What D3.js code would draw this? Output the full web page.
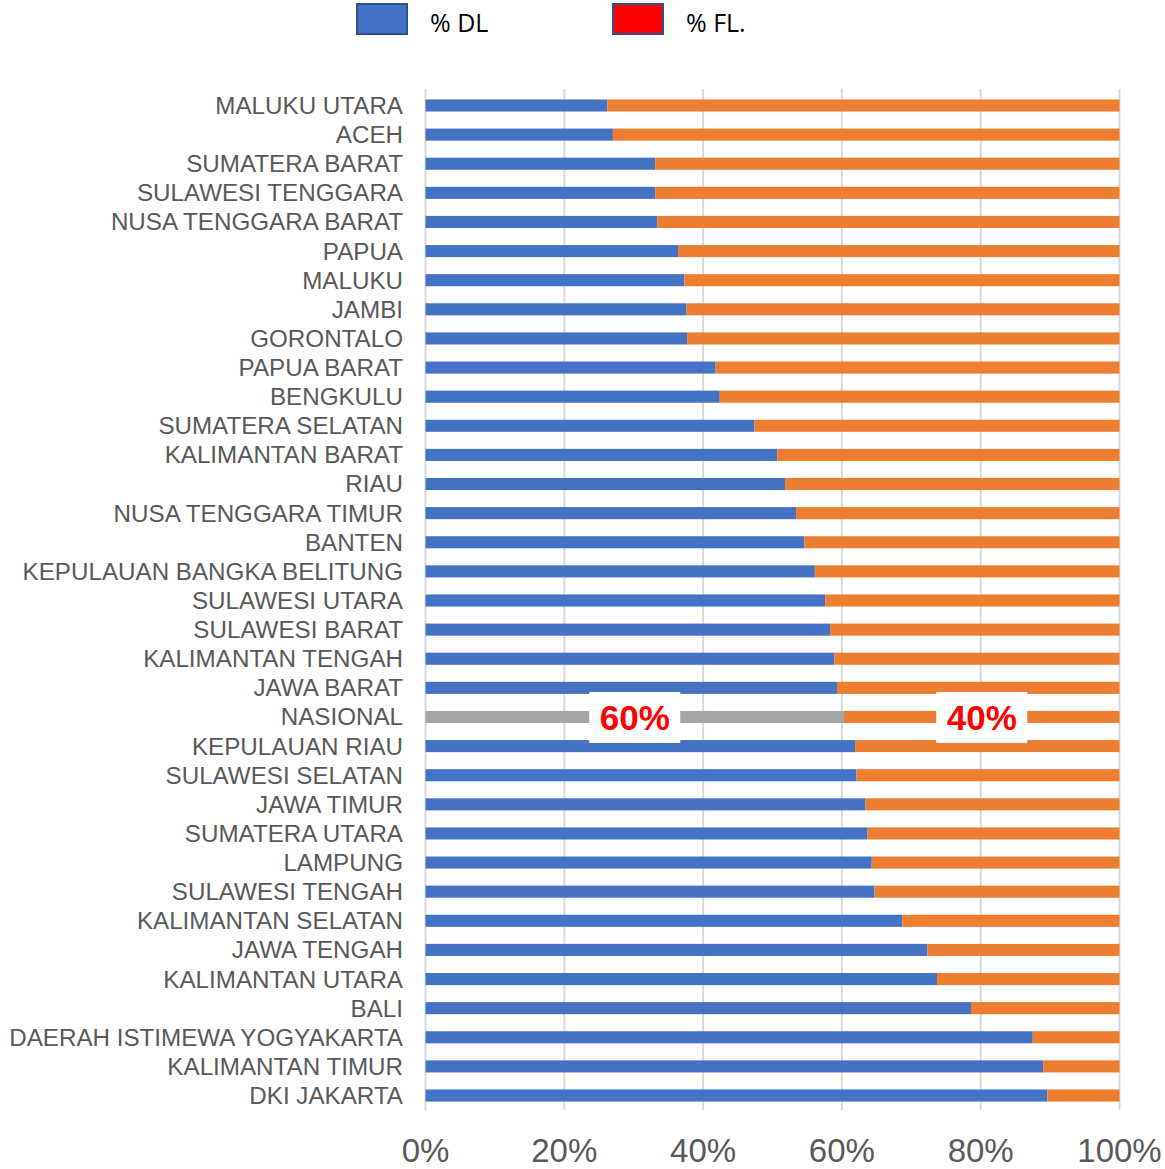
<!DOCTYPE html>
<html>
<head>
<meta charset="utf-8">
<script src="https://cdn.jsdelivr.net/npm/d3@7"></script>
<style>
  body { margin: 0; background: #fff; }
  svg { display: block; font-family: "Liberation Sans", Arial, sans-serif; }
</style>
</head>
<body>
<svg id="chart"></svg>
<script>
var provinces = ["MALUKU UTARA","ACEH","SUMATERA BARAT","SULAWESI TENGGARA","NUSA TENGGARA BARAT",
	"PAPUA","MALUKU","JAMBI","GORONTALO","PAPUA BARAT","BENGKULU","SUMATERA SELATAN",
	"KALIMANTAN BARAT","RIAU","NUSA TENGGARA TIMUR","BANTEN","KEPULAUAN BANGKA BELITUNG",
	"SULAWESI UTARA","SULAWESI BARAT","KALIMANTAN TENGAH","JAWA BARAT","NASIONAL",
	"KEPULAUAN RIAU","SULAWESI SELATAN","JAWA TIMUR","SUMATERA UTARA","LAMPUNG",
	"SULAWESI TENGAH","KALIMANTAN SELATAN","JAWA TENGAH","KALIMANTAN UTARA","BALI",
	"DAERAH ISTIMEWA YOGYAKARTA","KALIMANTAN TIMUR","DKI JAKARTA"];

var dlValues = [26.2, 27.0, 33.1, 33.1, 33.4, 36.4, 37.3, 37.6, 37.7, 41.8, 42.4, 47.4,
	50.7, 51.8, 53.4, 54.6, 56.1, 57.6, 58.3, 58.9, 59.3, 60.3, 61.9, 62.1, 63.4, 63.7,
	64.3, 64.7, 68.7, 72.3, 73.7, 78.6, 87.5, 89.0, 89.6];

var flValues = [73.8, 73.0, 66.9, 66.9, 66.6, 63.6, 62.7, 62.4, 62.3, 58.2, 57.6, 52.6,
	49.3, 48.2, 46.6, 45.4, 43.9, 42.4, 41.7, 41.1, 40.7, 39.7, 38.1, 37.9, 36.6, 36.3,
	35.7, 35.3, 31.3, 27.7, 26.3, 21.4, 12.5, 11.0, 10.4];

var xTicks = [0, 20, 40, 60, 80, 100];
var legendItems = [{name: "% DL", color: "#4472C4"}, {name: "% FL.", color: "#FF0000"}];
var nationalLabels = ["60%", "40%"];

var svgWidth = 1165, svgHeight = 1169,
	plotLeft = 425.5, plotRight = 1119.5, plotTop = 91, plotBottom = 1110;

var vis = d3.select("#chart").attr("width", svgWidth).attr("height", svgHeight);

var x = d3.scaleLinear().domain([0, 100]).range([plotLeft, plotRight]);
var y = d3.scaleBand().domain(provinces).range([plotTop, plotBottom]).paddingInner(0.585).paddingOuter(0.29);

// gridlines
vis.append("g").selectAll("line")
	.data(xTicks)
	.enter().append("line")
	.attr("x1", function(d){ return x(d); })
	.attr("x2", function(d){ return x(d); })
	.attr("y1", plotTop - 2)
	.attr("y2", plotBottom)
	.attr("stroke", "#d9d9d9")
	.attr("stroke-width", 2);

var rows = provinces.map(function(p, i){
	return {name: p, dl: dlValues[i], fl: flValues[i], nas: p == "NASIONAL"};
});

var bars = vis.append("g");
bars.selectAll("rect.dl")
	.data(rows)
	.enter().append("rect")
	.attr("class", "dl")
	.attr("x", x(0))
	.attr("y", function(d){ return y(d.name); })
	.attr("width", function(d){ return x(d.dl) - x(0); })
	.attr("height", y.bandwidth())
	.attr("fill", function(d){ return d.nas ? "#A5A5A5" : "#4472C4"; });

bars.selectAll("rect.fl")
	.data(rows)
	.enter().append("rect")
	.attr("class", "fl")
	.attr("x", function(d){ return x(d.dl); })
	.attr("y", function(d){ return y(d.name); })
	.attr("width", function(d){ return x(d.dl + d.fl) - x(d.dl); })
	.attr("height", y.bandwidth())
	.attr("fill", "#ED7D31");

// category labels
vis.append("g").selectAll("text")
	.data(provinces)
	.enter().append("text")
	.attr("x", 403)
	.attr("y", function(d){ return y(d) + y.bandwidth() / 2; })
	.attr("dy", "0.35em")
	.attr("text-anchor", "end")
	.attr("font-size", 24.2)
	.attr("fill", "#595959")
	.text(function(d){ return d; });

// x tick labels
vis.append("g").selectAll("text")
	.data(xTicks)
	.enter().append("text")
	.attr("x", function(d){ return x(d); })
	.attr("y", 1162)
	.attr("text-anchor", "middle")
	.attr("font-size", 33)
	.attr("fill", "#595959")
	.text(function(d){ return d + "%"; });

// national labels
var nas = rows.filter(function(d){ return d.nas; })[0];
var labelPos = [nas.dl / 2, nas.dl + nas.fl / 2];
var ann = vis.append("g").selectAll("g")
	.data(labelPos)
	.enter().append("g")
	.attr("transform", function(d){ return "translate(" + x(d) + "," + (y(nas.name) + y.bandwidth() / 2) + ")"; });
ann.append("rect")
	.attr("x", -45.5).attr("y", -25)
	.attr("width", 91).attr("height", 51)
	.attr("fill", "#fff");
ann.append("text")
	.attr("text-anchor", "middle")
	.attr("dy", "0.36em")
	.attr("font-size", 35)
	.attr("font-weight", "bold")
	.attr("fill", "#FF0000")
	.text(function(d, i){ return nationalLabels[i]; });

// legend
var lg = vis.append("g").selectAll("g")
	.data(legendItems)
	.enter().append("g")
	.attr("transform", function(d, i){ return "translate(" + (357 + i * 256) + ",4)"; });
lg.append("rect")
	.attr("width", 50).attr("height", 30)
	.attr("fill", function(d){ return d.color; })
	.attr("stroke", "#2F528F")
	.attr("stroke-width", 2);
lg.append("text")
	.attr("x", 73).attr("y", 28)
	.attr("font-size", 25)
	.attr("fill", "#000")
	.style("font-family", "'Open Sans', 'Liberation Sans', sans-serif")
	.text(function(d){ return d.name; });
</script>
</body>
</html>
